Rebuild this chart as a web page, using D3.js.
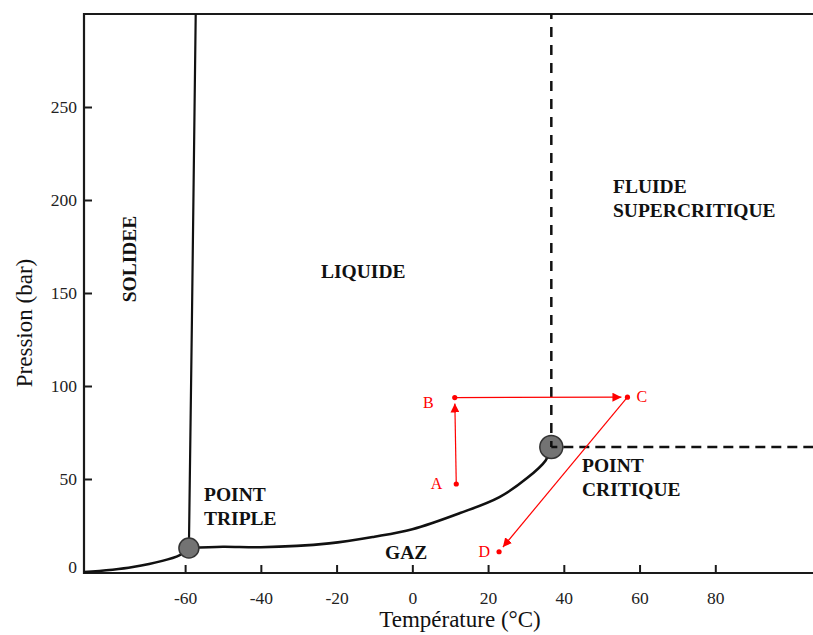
<!DOCTYPE html>
<html>
<head>
<meta charset="utf-8">
<script src="https://cdn.jsdelivr.net/npm/d3@7"></script>
<style>
  body { margin: 0; background: #fff; }
  svg { display: block; font-family: "Liberation Serif", "Times New Roman", serif; }
</style>
</head>
<body>
<div id="chart"></div>
<script>
// courbes du diagramme de phase (T en °C, P en bar)
const sublimationT = [-86.7, -73.8, -61.4, -59.0];
const sublimationP = [0, 2.7, 9.1, 12.9];
const fusionT = [-59.0, -58.2, -57.2];
const fusionP = [12.9, 135.5, 300];
const vaporisationT = [-59.0, -50.0, -40.0, -22.0, -10.0, 0, 12.6, 23.0, 30.3, 35.2, 36.7];
const vaporisationP = [12.9, 13.6, 13.3, 15.4, 19.0, 23.0, 31.7, 40.3, 50.5, 60.0, 67.2];

const triplePoint = [-59.0, 12.9];
const criticalPoint = [36.7, 67.2];

const pointNames = ["A", "B", "C", "D"];
const pointT = [11.6, 11.2, 56.8, 22.9];
const pointP = [47.3, 93.8, 94.0, 10.9];
const arrows = [["A", "B"], ["B", "C"], ["C", "D"]];

const xTicks = [-60, -40, -20, 0, 20, 40, 60, 80];
const yTicks = [0, 50, 100, 150, 200, 250];

const width = 813, height = 635;
const margin = { top: 14, left: 84, bottom: 62 };

const x = d3.scaleLinear().domain([-86.7, 105.8]).range([margin.left, width]);
const y = d3.scaleLinear().domain([0, 300]).range([height - margin.bottom - 1, margin.top]);

const svg = d3.select("#chart").append("svg")
  .attr("width", width)
  .attr("height", height);

// cadre
const bottomY = height - margin.bottom;
svg.append("path")
  .attr("d", `M${width},${margin.top}H${margin.left}V${bottomY}H${width}`)
  .attr("fill", "none")
  .attr("stroke", "#1a1a1a")
  .attr("stroke-width", 2.2);

// axes avec graduations vers l'intérieur
const xAxis = svg.append("g")
  .attr("transform", `translate(0,${bottomY})`)
  .call(d3.axisTop(x).tickValues(xTicks).tickSize(8).tickFormat(d3.format("d")))
  .attr("font-family", "'Liberation Serif', serif")
  .attr("font-size", 17.5);
xAxis.select(".domain").remove();
xAxis.selectAll(".tick line").attr("stroke", "#1a1a1a").attr("stroke-width", 2);
xAxis.selectAll(".tick text")
  .attr("y", 25)
  .attr("dy", "0.32em")
  .attr("fill", "#222")
  .text(d => d < 0 ? "-" + Math.abs(d) : d);

const yAxis = svg.append("g")
  .attr("transform", `translate(${margin.left},0)`)
  .call(d3.axisRight(y).tickValues(yTicks).tickSize(8).tickFormat(d3.format("d")))
  .attr("font-family", "'Liberation Serif', serif")
  .attr("font-size", 17.5);
yAxis.select(".domain").remove();
yAxis.selectAll(".tick line").attr("stroke", "#1a1a1a").attr("stroke-width", 2)
  .attr("opacity", d => d === 0 ? 0 : 1);
yAxis.selectAll(".tick text")
  .attr("x", -7)
  .attr("text-anchor", "end")
  .attr("fill", "#222")
  .attr("dy", d => d === 0 ? "0.05em" : "0.32em");

// titres des axes
svg.append("text")
  .attr("x", 460)
  .attr("y", 627)
  .attr("text-anchor", "middle")
  .attr("font-size", 23)
  .attr("fill", "#111")
  .text("Température (°C)");

svg.append("text")
  .attr("transform", "translate(32,323) rotate(-90)")
  .attr("text-anchor", "middle")
  .attr("font-size", 23)
  .attr("fill", "#111")
  .text("Pression (bar)");

// courbes
const line = d3.line().x(d => x(d[0])).y(d => y(d[1]));
const curve = d3.line().x(d => x(d[0])).y(d => y(d[1])).curve(d3.curveCatmullRom.alpha(0.5));

svg.append("path")
  .datum(sublimationT.map((t, i) => [t, sublimationP[i]]))
  .attr("d", curve)
  .attr("fill", "none").attr("stroke", "#111").attr("stroke-width", 2.5);

svg.append("path")
  .datum(fusionT.map((t, i) => [t, fusionP[i]]))
  .attr("d", line)
  .attr("fill", "none").attr("stroke", "#111").attr("stroke-width", 2.2);

svg.append("path")
  .datum(vaporisationT.map((t, i) => [t, vaporisationP[i]]))
  .attr("d", curve)
  .attr("fill", "none").attr("stroke", "#111").attr("stroke-width", 2.6);

// points triple et critique
svg.append("circle")
  .attr("cx", x(triplePoint[0])).attr("cy", y(triplePoint[1])).attr("r", 10)
  .attr("fill", "#737373").attr("stroke", "#333").attr("stroke-width", 1.5);

svg.append("circle")
  .attr("cx", x(criticalPoint[0])).attr("cy", y(criticalPoint[1])).attr("r", 11.5)
  .attr("fill", "#737373").attr("stroke", "#333").attr("stroke-width", 1.5);

// lignes pointillées depuis le point critique
svg.append("line")
  .attr("x1", x(criticalPoint[0])).attr("y1", y(criticalPoint[1]))
  .attr("x2", x(criticalPoint[0])).attr("y2", margin.top)
  .attr("stroke", "#111").attr("stroke-width", 2.5)
  .attr("stroke-dasharray", "10,8").attr("stroke-dashoffset", 4);

svg.append("line")
  .attr("x1", x(criticalPoint[0])).attr("y1", y(criticalPoint[1]))
  .attr("x2", width).attr("y2", y(criticalPoint[1]))
  .attr("stroke", "#111").attr("stroke-width", 2.5)
  .attr("stroke-dasharray", "10,6").attr("stroke-dashoffset", 4);

// flèches rouges A -> B -> C -> D
svg.append("defs").append("marker")
  .attr("id", "arrow")
  .attr("viewBox", "0 0 10 10")
  .attr("refX", 10).attr("refY", 5)
  .attr("markerWidth", 9).attr("markerHeight", 9)
  .attr("markerUnits", "userSpaceOnUse")
  .attr("orient", "auto")
  .append("path")
  .attr("d", "M0,0L10,5L0,10Z")
  .attr("fill", "#ff0000");

const pos = name => {
  const i = pointNames.indexOf(name);
  return [x(pointT[i]), y(pointP[i])];
};

arrows.forEach(([from, to]) => {
  const [x1, y1] = pos(from);
  const [x2, y2] = pos(to);
  const len = Math.hypot(x2 - x1, y2 - y1);
  const gap = 6;
  svg.append("line")
    .attr("x1", x1).attr("y1", y1)
    .attr("x2", x2 - (x2 - x1) / len * gap)
    .attr("y2", y2 - (y2 - y1) / len * gap)
    .attr("stroke", "#ff0000").attr("stroke-width", 1.2)
    .attr("marker-end", "url(#arrow)");
});

svg.selectAll(".pt")
  .data(pointNames)
  .enter().append("circle")
  .attr("class", "pt")
  .attr("cx", (d, i) => x(pointT[i]))
  .attr("cy", (d, i) => y(pointP[i]))
  .attr("r", 2.6)
  .attr("fill", "#ff0000");

const labelOffset = { A: [-14, 5, "end"], B: [-21, 10, "end"], C: [9, 5, "start"], D: [-9, 5, "end"] };
svg.selectAll(".ptlabel")
  .data(pointNames)
  .enter().append("text")
  .attr("class", "ptlabel")
  .attr("x", (d, i) => x(pointT[i]) + labelOffset[d][0])
  .attr("y", (d, i) => y(pointP[i]) + labelOffset[d][1])
  .attr("text-anchor", d => labelOffset[d][2])
  .attr("font-size", 16)
  .attr("fill", "#ff0000")
  .text(d => d);

// noms des domaines
const regionLabels = [
  { lines: ["LIQUIDE"], x: 321, y: 278 },
  { lines: ["FLUIDE", "SUPERCRITIQUE"], x: 613, y: 193 },
  { lines: ["POINT", "TRIPLE"], x: 204, y: 501 },
  { lines: ["POINT", "CRITIQUE"], x: 582, y: 472 },
  { lines: ["GAZ"], x: 385, y: 559 }
];

regionLabels.forEach(r => {
  const t = svg.append("text")
    .attr("x", r.x).attr("y", r.y)
    .attr("font-size", 19.5)
    .attr("font-weight", "bold")
    .attr("fill", "#111");
  r.lines.forEach((l, i) => {
    t.append("tspan").attr("x", r.x).attr("dy", i === 0 ? 0 : 24).text(l);
  });
});

svg.append("text")
  .attr("transform", "translate(136,259) rotate(-90)")
  .attr("text-anchor", "middle")
  .attr("font-size", 19.5)
  .attr("font-weight", "bold")
  .attr("fill", "#111")
  .text("SOLIDEE");
</script>
</body>
</html>
